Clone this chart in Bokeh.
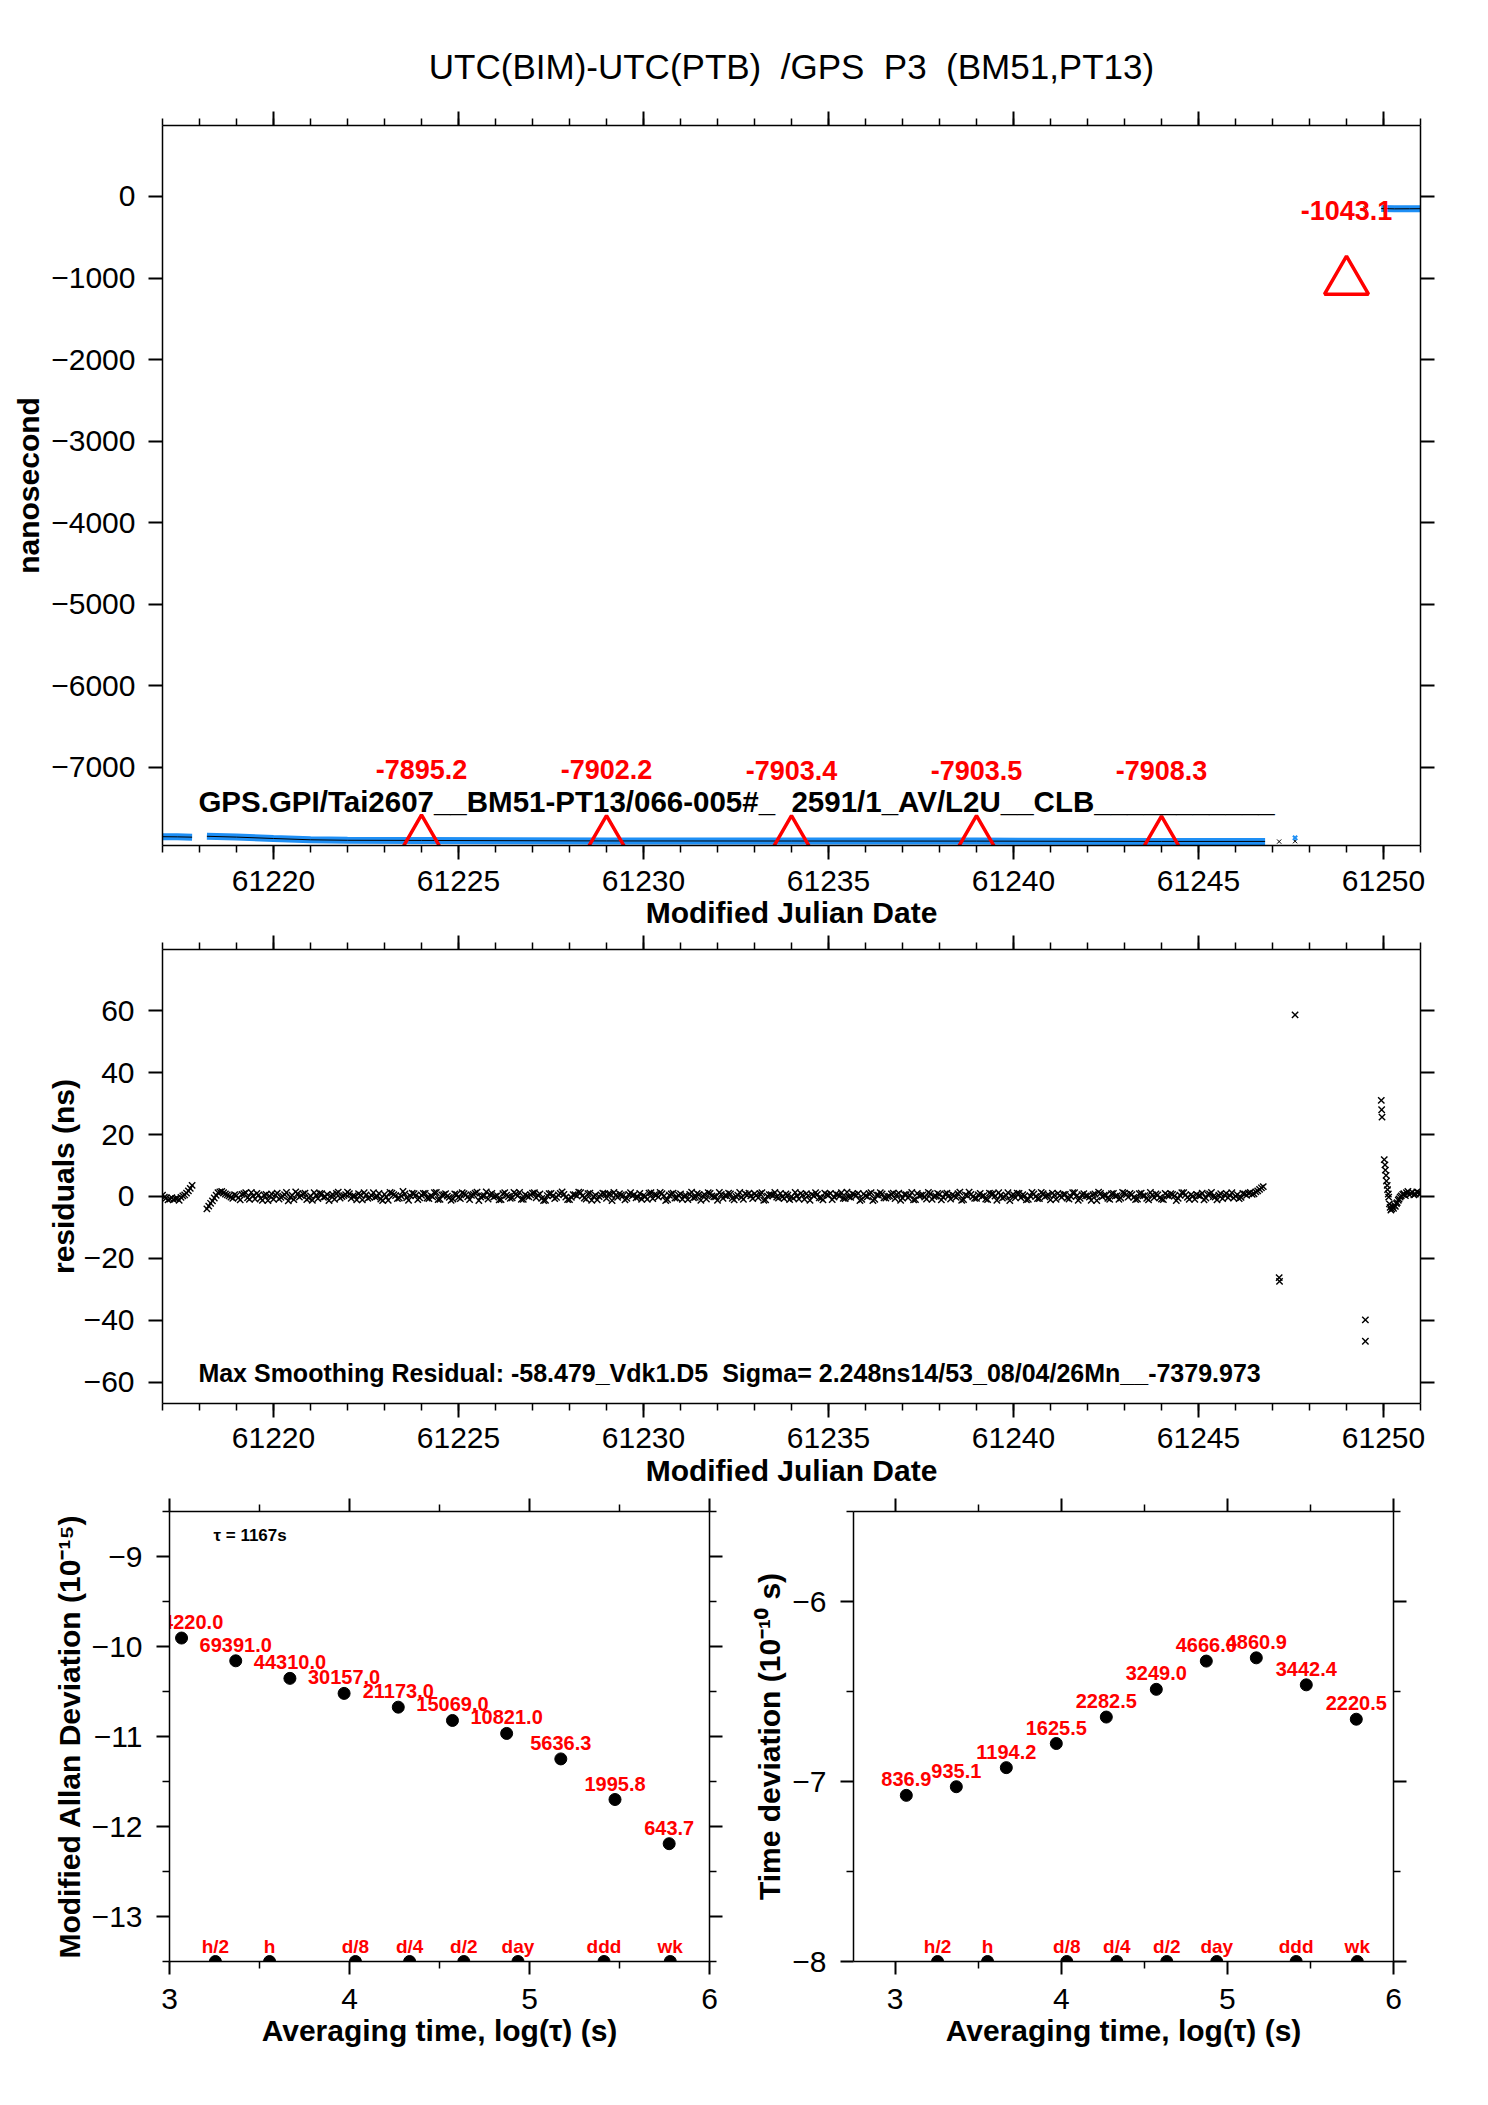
from bokeh.plotting import figure
from bokeh.models import LinearAxis, FixedTicker, Range1d, Label
from bokeh.layouts import column, row
from bokeh.embed import file_html
from bokeh.resources import INLINE
from bokeh.core.properties import value

FONT = "Liberation Sans"
BLUE = "#1e8ff5"
RED = "#ff0000"
NB = "\u00a0"

# --- top panel: UTC(BIM)-UTC(PTB) raw differences (ns) ---
seg_a_mjd = [61217.0, 61217.4, 61217.8]
seg_a_ns = [-7850, -7852, -7856]
seg_b_mjd = [61218.2, 61219.0, 61220.0, 61221.0, 61222.0, 61224.0, 61229.0,
             61234.0, 61239.0, 61244.0, 61246.8]
seg_b_ns = [-7845, -7855, -7872, -7888, -7894, -7896, -7902, -7903, -7904,
            -7908, -7908]
seg_c_mjd = [61249.94, 61250.3, 61250.7, 61251.0]
seg_c_ns = [-148, -152, -151, -150]
stray_mjd = [61247.18, 61247.61, 61249.51]
stray_ns = [-7910, -7905, -150]
stray_blue_mjd = [61247.61]
stray_blue_ns = [-7865]

tri_mjd = [61224, 61229, 61234, 61239, 61244, 61249]
tri_ns = [-7895.2, -7902.2, -7903.4, -7903.5, -7908.3, -1043.1]
tri_text = ["-7895.2", "-7902.2", "-7903.4", "-7903.5", "-7908.3", "-1043.1"]

# --- middle panel: residuals (ns) ---
res_a_mjd = [61217.0, 61217.05, 61217.1, 61217.15, 61217.2, 61217.25, 61217.3,
             61217.35, 61217.4, 61217.45, 61217.5, 61217.55, 61217.6,
             61217.65, 61217.7, 61217.75, 61217.8]
res_a = [0.4, -0.2, -0.5, -1.1, -0.8, -0.4, -1.0, -0.7, -0.6, -1.2, -0.3, 0.2,
         0.5, 1.1, 1.8, 2.6, 3.6]

# two interleaved sample sets, 0.1 d apart each, offset by 0.05 d
RES_B_START = 61218.2
RES_B2_START = 61218.25
RES_STEP = 0.1
res_b = [
    -4.0, -2.2, -0.5, 1.2, 1.6, 0.8, 0.2, -0.6,
    0.3, -1.1, 0.9, -0.4, 1.3, -0.8, 0.5, -1.2, 0.7, 0.1,
    -0.9, 1.1, -0.3, 0.6, -1.4, 0.4, 1.5, -0.2, 0.8, -1.0,
    0.2, 1.2, -0.7, 0.9, -0.1, -1.3, 0.6, 1.0, -0.5, 0.3,
    1.4, -0.6, 0.1, 0.9, -1.1, 0.5, -0.3, 1.2, 0.0, -0.8,
    0.7, -1.2, 1.1, 0.3, -0.5, 1.6, -0.4, 0.2, 0.9, -1.0,
    0.4, 1.0, -0.7, -0.1, 1.3, -0.9, 0.6, 0.1, -1.2, 0.8,
    -0.3, 1.2, 0.5, -1.0, 0.7, 1.4, -0.2, 0.3, -0.8, 1.0,
    0.1, -1.1, 0.9, 0.4, -0.6, 1.3, 0.2, -0.9, 0.6, -0.1,
    1.1, -0.4, 0.8, -1.3, 0.3, 1.0, -0.7, 0.5, 1.5, -0.2,
    -1.0, 0.6, 0.2, 1.2, -0.5, 0.9, -1.2, 0.4, 0.0, 1.1,
    -0.6, 0.8, 1.3, -0.3, 0.5, -1.1, 0.7, 0.2, -0.4, 1.0,
    0.3, -0.9, 1.2, 0.6, -0.2, 0.9, -1.3, 0.4, 1.1, -0.5,
    0.8, 0.1, -1.0, 1.4, -0.3, 0.6, 0.2, -0.8, 1.0, -0.1,
    -1.2, 0.7, 0.3, 1.1, -0.6, 0.0, 1.3, -0.9, 0.5, 0.2,
    0.9, -0.4, 1.2, -1.1, 0.6, 0.3, -0.2, 1.0, -0.7, 0.4,
    -0.1, 1.3, -0.8, 0.5, 0.9, -1.2, 0.2, 0.7, -0.5, 1.1,
    0.4, -1.0, 0.8, 0.1, -0.6, 1.4, -0.3, 0.6, 1.0, -0.9,
    0.2, 0.9, -1.3, 0.5, 1.2, -0.4, 0.0, 0.8, -0.7, 1.1,
    -0.5, 0.6, 0.3, -1.1, 1.0, 0.4, -0.2, 1.3, -0.9, 0.1,
    0.7, -0.3, 1.1, -0.8, 0.2, 0.9, -1.2, 0.5, 1.4, -0.1,
    -0.6, 1.0, 0.3, -1.0, 0.8, 0.1, 1.2, -0.5, 0.4, -1.3,
    0.6, 1.1, -0.4, 0.2, -0.9, 1.3, 0.0, -0.7, 0.9, 0.3,
    -1.1, 0.5, 1.0, -0.3, 0.7, -0.8, 1.2, 0.1, -0.6, 0.9,
    0.2, -1.2, 0.8, 1.4, -0.1, 0.4, -0.9, 1.0, 0.3, -0.5,
    1.1, -0.2, 0.6, -1.0, 0.9, 0.2, -0.6, 1.3, -0.4, 0.5,
    -0.8, 1.0, 0.1, 0.7, -1.3, 0.4, 1.2, -0.3, 0.6, -0.9,
    0.3, 1.1, -0.5, 0.8, 0.0, -1.1, 0.9, 0.5, -0.4, 1.2,
    0.1, -0.7, 1.0, 0.4, 1.3, 0.9, 1.8, 2.8,
]
res_b2 = [
    -3.1, -1.4, 0.4, 1.5, 1.2, 0.5, -0.2, 0.6,
    -0.4, 0.7, 1.2, -0.9, 0.2, 1.0, -0.6, 0.4, -1.3, 0.8,
    0.5, -0.8, 0.1, 1.3, -0.2, -1.0, 0.9, 0.3, 1.1, -0.5,
    -1.2, 0.4, 1.0, -0.3, 0.7, 0.2, -0.9, 1.4, 0.0, 0.6,
    0.9, 0.2, -1.1, 0.5, 1.2, -0.6, 0.3, -0.2, 1.0, -1.3,
    -0.2, 1.3, 0.6, -0.7, 0.1, 0.8, -1.2, 1.1, 0.4, -0.4,
    1.0, -0.5, 0.3, 1.2, -1.0, 0.5, 0.9, -0.3, -0.8, 0.7,
    -0.7, 0.9, -0.1, 0.4, 1.1, -1.3, 0.2, 1.5, 0.6, -0.2,
    0.3, -1.0, 1.2, 0.0, -0.4, 0.8, 1.3, -0.9, 0.1, 0.5,
    1.2, 0.4, -0.6, -1.2, 0.9, 0.2, -0.3, 1.0, 0.7, -1.0,
    -0.3, 0.6, 1.4, 0.2, -0.8, 1.1, 0.0, -1.1, 0.5, 0.9,
    0.8, -1.3, 0.4, 0.9, 0.3, -0.6, 1.2, 0.6, -0.2, -0.9,
    0.0, 1.1, -0.7, 0.5, 1.3, 0.1, -1.0, 0.8, -0.5, 0.4,
    -0.9, 0.3, 0.7, -0.4, 1.0, -1.2, 0.6, 1.2, 0.2, -0.1,
    1.3, -0.6, 0.2, 0.8, -1.1, 0.4, -0.3, 0.9, 1.1, -0.7,
    0.4, 0.9, -1.2, 0.1, 0.6, 1.3, -0.5, -0.1, 0.8, -1.0,
    -0.6, 0.2, 1.0, -0.9, 0.3, 0.7, 1.2, -0.4, -1.1, 0.6,
    1.0, -0.2, 0.5, 1.2, -0.7, -0.1, 0.9, 0.3, -1.3, 0.8,
    -0.1, 1.2, -0.9, 0.4, 0.8, -0.5, 0.1, 1.1, 0.6, -1.2,
    0.7, -0.4, 1.3, -1.0, 0.2, 0.5, -0.8, 0.9, 0.0, 1.0,
    -1.1, 0.8, 0.2, 0.6, -0.3, 1.4, -1.0, 0.3, 0.7, -0.6,
    0.5, 0.0, -0.8, 1.1, 0.9, -1.2, 0.4, -0.2, 1.2, 0.3,
    -0.4, 1.0, 0.6, -1.1, 0.2, 0.8, -0.7, 1.3, -0.1, 0.5,
    1.1, -0.9, 0.3, 0.7, -0.5, 0.0, 1.2, -1.2, 0.6, 0.2,
    -0.2, 0.6, -1.3, 1.0, 0.4, -0.6, 0.9, 0.1, -0.9, 1.3,
    0.6, 1.0, -0.3, -0.8, 1.1, 0.3, -1.1, 0.5, 0.8, -0.4,
    -1.0, 0.4, 0.9, 0.2, -0.6, 1.2, 0.5, -0.9, 0.1, 0.7,
    0.2, -1.1, 0.6, 1.3, -0.2, 0.4, -0.7, 1.0, 0.3, -0.5,
    0.6, -0.3, 0.8, 1.1, 0.7, 1.5, 2.3, 3.2,
]
res_b_mjd = [RES_B_START + RES_STEP * i for i in range(len(res_b))]
res_b2_mjd = [RES_B2_START + RES_STEP * i for i in range(len(res_b2))]

res_c_mjd = [61247.18, 61247.19, 61247.61, 61249.51, 61249.51, 61249.94,
             61249.95, 61249.96, 61250.02, 61250.04, 61250.05, 61250.07,
             61250.08, 61250.10, 61250.11, 61250.13, 61250.14, 61250.16,
             61250.18, 61250.20, 61250.22, 61250.25, 61250.27, 61250.30,
             61250.32, 61250.35, 61250.37, 61250.40, 61250.42, 61250.45,
             61250.48, 61250.52, 61250.55, 61250.59, 61250.62, 61250.66,
             61250.70, 61250.74, 61250.78, 61250.82, 61250.86, 61250.90,
             61250.94, 61250.97, 61251.0]
res_c = [-26.2, -27.4, 58.6, -39.8, -46.7, 31.0, 28.0, 25.6, 11.9, 10.2, 8.5,
         6.8, 5.0, 3.6, 2.2, 0.8, -0.2, -2.4, -3.5, -4.4, -4.0, -3.2, -3.8,
         -2.9, -3.2, -2.3, -2.0, -1.2, -0.8, -0.2, 0.2, 0.7, 0.9, 0.3, 1.2,
         1.6, 0.6, 1.0, 1.4, 0.5, 0.8, 1.5, 1.3, 0.7, 1.0]

# --- bottom panels: stability ---
log_tau = [3.067, 3.368, 3.669, 3.970, 4.271, 4.572, 4.873, 5.174, 5.475, 5.776]
mdev = [-9.906, -10.159, -10.354, -10.521, -10.674, -10.822, -10.966, -11.249,
        -11.700, -12.191]
mdev_text = ["124220.0", "69391.0", "44310.0", "30157.0", "21173.0", "15069.0",
             "10821.0", "5636.3", "1995.8", "643.7"]
tdev = [-7.077, -7.029, -6.923, -6.789, -6.642, -6.488, -6.331, -6.313, -6.463,
        -6.654]
tdev_text = ["836.9", "935.1", "1194.2", "1625.5", "2282.5", "3249.0", "4666.0",
             "4860.9", "3442.4", "2220.5"]
span_log_tau = [3.255, 3.556, 4.033, 4.334, 4.635, 4.936, 5.414, 5.782]
span_text = ["h/2", "h", "d/8", "d/4", "d/2", "day", "ddd", "wk"]


def minus(v):
    return str(v).replace("-", "\u2212")


def style_axis(ax, major_out=14, minor_out=7, mirror=False):
    ax.axis_line_width = 1.5
    ax.major_tick_line_width = 2
    ax.minor_tick_line_width = 1.5
    ax.major_tick_in = 0
    ax.minor_tick_in = 0
    ax.major_tick_out = major_out
    ax.minor_tick_out = minor_out
    ax.major_label_text_font = FONT
    ax.major_label_text_font_size = "30px"
    ax.major_label_text_color = "black"
    ax.axis_label_text_font = FONT
    ax.axis_label_text_font_size = "30px"
    ax.axis_label_text_font_style = "bold"
    ax.axis_label_text_color = "black"
    if mirror:
        # ticks only, no numbers on the top/right copies
        ax.major_label_text_font_size = "1px"
        ax.major_label_text_color = None
        ax.major_label_standoff = 0


def make_fig(xr, yr, fw, fh, borders, xticks, xminor, yticks, yminor,
             xlabel, ylabel, major_out=14, minor_out=7, title=None):
    p = figure(frame_width=fw, frame_height=fh, x_range=Range1d(*xr),
               y_range=Range1d(*yr), output_backend="svg",
               toolbar_location=None, title=title,
               min_border_left=borders[0], min_border_right=borders[1],
               min_border_top=borders[2], min_border_bottom=borders[3])
    p.grid.visible = False
    p.outline_line_color = None
    p.add_layout(LinearAxis(), "above")
    p.add_layout(LinearAxis(), "right")
    xt = FixedTicker(ticks=xticks, minor_ticks=xminor)
    yt = FixedTicker(ticks=yticks, minor_ticks=yminor)
    for ax in p.below + p.above:
        ax.ticker = xt
        style_axis(ax, major_out, minor_out, mirror=ax in p.above)
    for ax in p.left + p.right:
        ax.ticker = yt
        style_axis(ax, major_out, minor_out, mirror=ax in p.right)
    p.below[0].major_label_overrides = {t: minus(t) for t in xticks}
    p.left[0].major_label_overrides = {t: minus(t) for t in yticks}
    p.below[0].axis_label = xlabel
    p.left[0].axis_label = ylabel
    return p


mjd_major = [61220, 61225, 61230, 61235, 61240, 61245, 61250]
mjd_minor = list(range(61217, 61252))

# top panel
p1 = make_fig((61217, 61251), (-7958, 870), 1258, 720, (162, 52, 125, 88),
              mjd_major, mjd_minor, [-7000, -6000, -5000, -4000, -3000, -2000,
                                     -1000, 0], [],
              "Modified Julian Date", "nanosecond",
              title=f"UTC(BIM)-UTC(PTB) {NB}/GPS {NB}P3 {NB}(BM51,PT13)")
p1.title.align = "center"
p1.title.text_font = FONT
p1.title.text_font_size = "35px"
p1.title.text_font_style = "normal"
p1.title.text_color = "black"
p1.title.standoff = 52
p1.below[0].major_label_standoff = 11
p1.below[0].axis_label_standoff = 2
p1.left[0].major_label_standoff = 13
p1.left[0].axis_label_standoff = 3

for xs, ys in [(seg_a_mjd, seg_a_ns), (seg_b_mjd, seg_b_ns), (seg_c_mjd, seg_c_ns)]:
    p1.line(xs, ys, line_color=BLUE, line_width=7)
    p1.line(xs, ys, line_color="black", line_width=1)
p1.scatter(stray_mjd, stray_ns, marker="x", size=6, line_color="black")
p1.scatter(stray_blue_mjd, stray_blue_ns, marker="x", size=6, line_color=BLUE,
           line_width=2)
p1.scatter(tri_mjd, tri_ns, marker="triangle", size=44, fill_color=None,
           line_color=RED, line_width=3.5)
p1.text(tri_mjd, tri_ns, text=tri_text, text_align="center",
        text_baseline="alphabetic", y_offset=-71, text_color=RED,
        text_font=value(FONT), text_font_style="bold", text_font_size="27px")
p1.add_layout(Label(x=61217.97, y=-7417,
                    text=f"GPS.GPI/Tai2607__BM51-PT13/066-005#_ {NB}2591/1_AV/L2U__CLB___________",
                    text_font=FONT, text_font_style="bold", text_font_size="29.5px",
                    text_color="black", text_baseline="alphabetic"))

# residual panel
p2 = make_fig((61217, 61251), (-66.8, 79.7), 1258, 454, (162, 52, 16, 90),
              mjd_major, mjd_minor, [-60, -40, -20, 0, 20, 40, 60], [],
              "Modified Julian Date", "residuals (ns)")
p2.below[0].major_label_standoff = 10
p2.below[0].axis_label_standoff = 3
p2.left[0].major_label_standoff = 14
p2.left[0].axis_label_standoff = 1
for xs, ys in [(res_a_mjd, res_a), (res_b_mjd, res_b), (res_b2_mjd, res_b2),
               (res_c_mjd, res_c)]:
    p2.scatter(xs, ys, marker="x", size=9, line_color="black", line_width=1.4)
p2.add_layout(Label(x=61217.97, y=-57.0,
                    text=f"Max Smoothing Residual: -58.479_Vdk1.D5 {NB}Sigma= 2.248ns14/53_08/04/26Mn__-7379.973",
                    text_font=FONT, text_font_style="bold", text_font_size="25px",
                    text_color="black", text_baseline="alphabetic"))

# Allan deviation panel
p3 = make_fig((3, 6), (-13.5, -8.5), 540, 450, (169, 34, 18, 100),
              [3, 4, 5, 6], [3.5, 4.5, 5.5], [-13, -12, -11, -10, -9],
              [-13.5, -12.5, -11.5, -10.5, -9.5, -8.5],
              "Averaging time, log(\u03c4) (s)",
              "Modified Allan Deviation (10\u207b\u00b9\u2075)",
              major_out=13, minor_out=7)
# time deviation panel
p4 = make_fig((2.749, 6.0), (-8.0, -5.5), 540, 450, (110, 79, 18, 100),
              [3, 4, 5, 6], [3.5, 4.5, 5.5], [-8, -7, -6],
              [-7.5, -6.5, -5.5],
              "Averaging time, log(\u03c4) (s)",
              "Time deviation (10\u207b\u00b9\u2070 s)",
              major_out=13, minor_out=7)

for p, ys, labels in [(p3, mdev, mdev_text), (p4, tdev, tdev_text)]:
    p.below[0].major_label_standoff = 14
    p.below[0].axis_label_standoff = 2
    p.left[0].major_label_standoff = 14
    p.left[0].axis_label_standoff = 3
    p.scatter(log_tau, ys, size=12, fill_color="black", line_color="black")
    p.text(log_tau, ys, text=labels, text_align="center",
           text_baseline="alphabetic", y_offset=-16, text_color=RED,
           text_font=value(FONT), text_font_style="bold", text_font_size="20px")
    y0 = p.y_range.start
    p.scatter(span_log_tau, [y0] * len(span_log_tau), size=12,
              fill_color="black", line_color="black")
    p.text(span_log_tau, [y0] * len(span_log_tau), text=span_text,
           text_align="center", text_baseline="alphabetic", y_offset=-15,
           text_color=RED, text_font=value(FONT), text_font_style="bold",
           text_font_size="19px")

p3.add_layout(Label(x=3.244, y=-8.77, text="\u03c4 = 1167s", text_font=FONT,
                    text_font_style="bold", text_font_size="17px",
                    text_color="black", text_baseline="middle"))

layout = column(p1, p2, row(p3, p4))
open("out.html", "w").write(file_html(layout, INLINE))
